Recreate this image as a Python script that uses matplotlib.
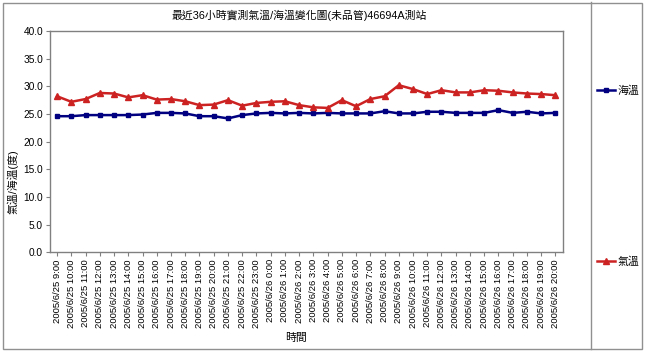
import matplotlib
matplotlib.use("Agg")
import matplotlib.pyplot as plt
from matplotlib.patches import Rectangle
from matplotlib.lines import Line2D
from matplotlib.ticker import FormatStrFormatter

plt.rcParams['font.family'] = ['Liberation Sans', 'Noto Sans CJK TC']

# hourly labels, 2005/6/25 9:00 .. 2005/6/26 20:00
times = ["2005/6/25 %d:00" % h for h in range(9, 24)] + \
        ["2005/6/26 %d:00" % h for h in range(0, 21)]

# sea temperature (deg)
sea_temp = [24.6, 24.6, 24.8, 24.8, 24.8, 24.8, 24.9, 25.2, 25.2, 25.1,
            24.6, 24.6, 24.2, 24.8, 25.1, 25.2, 25.1, 25.2, 25.1, 25.2,
            25.1, 25.1, 25.1, 25.5, 25.1, 25.1, 25.4, 25.4, 25.2, 25.2,
            25.2, 25.7, 25.2, 25.4, 25.1, 25.2]

# air temperature (deg)
air_temp = [28.2, 27.2, 27.7, 28.8, 28.7, 28.0, 28.4, 27.6, 27.7, 27.3,
            26.6, 26.7, 27.5, 26.5, 27.0, 27.2, 27.3, 26.6, 26.2, 26.1,
            27.5, 26.4, 27.7, 28.2, 30.2, 29.5, 28.6, 29.3, 28.9, 28.9,
            29.3, 29.2, 28.9, 28.7, 28.6, 28.4]

W, H = 645, 353
fig = plt.figure(figsize=(W / 100, H / 100), dpi=100)

def fx(px):
    return px / W

def fy(py):
    return 1 - py / H

# outer frame and legend divider
fig.add_artist(Rectangle((fx(3), fy(349)), fx(639), (346) / H, fill=False,
                         edgecolor="#909090", lw=1.0, transform=fig.transFigure))
fig.add_artist(Line2D([fx(591), fx(591)], [fy(2), fy(349)], color="#909090",
                      lw=1.0, transform=fig.transFigure))

ax = fig.add_axes([fx(50), fy(252.3), fx(512.5), (252.3 - 31) / H])
x = list(range(len(times)))
l_sea, = ax.plot(x, sea_temp, color="#000080", lw=1.8, marker="s", ms=3.5,
                 label="海溫")
l_air, = ax.plot(x, air_temp, color="#cc2222", lw=1.8, marker="^", ms=4,
                 label="氣溫")

ax.set_xlim(-0.5, len(times) - 0.5)
ax.set_ylim(0, 40)
ax.set_yticks([0, 5, 10, 15, 20, 25, 30, 35, 40])
ax.yaxis.set_major_formatter(FormatStrFormatter("%.1f"))
ax.set_xticks(x)
ax.set_xticklabels(times, rotation=90, fontsize=6.8)
ax.tick_params(axis="y", labelsize=7.3, length=3, color="#808080", pad=2)
ax.tick_params(axis="x", length=3, color="#808080", pad=2)
for s in ax.spines.values():
    s.set_color("#808080")
    s.set_linewidth(1.0)

fig.text(fx(299), fy(15), "最近36小時實測氣溫/海溫變化圖(未品管)46694A測站",
         ha="center", va="center", fontsize=7.8)
fig.text(fx(13), fy(182), "氣溫/海溫(度)", rotation=90, ha="center",
         va="center", fontsize=7.8)
fig.text(fx(296), fy(338), "時間", ha="center", va="center", fontsize=7.8)

fig.legend(handles=[l_sea], loc="center left", bbox_to_anchor=(fx(592), fy(91)),
           frameon=False, fontsize=7.8, handlelength=1.6, handletextpad=0.3,
           borderpad=0)
fig.legend(handles=[l_air], loc="center left", bbox_to_anchor=(fx(592), fy(262)),
           frameon=False, fontsize=7.8, handlelength=1.6, handletextpad=0.3,
           borderpad=0)

fig.savefig("out.png", dpi=100)
